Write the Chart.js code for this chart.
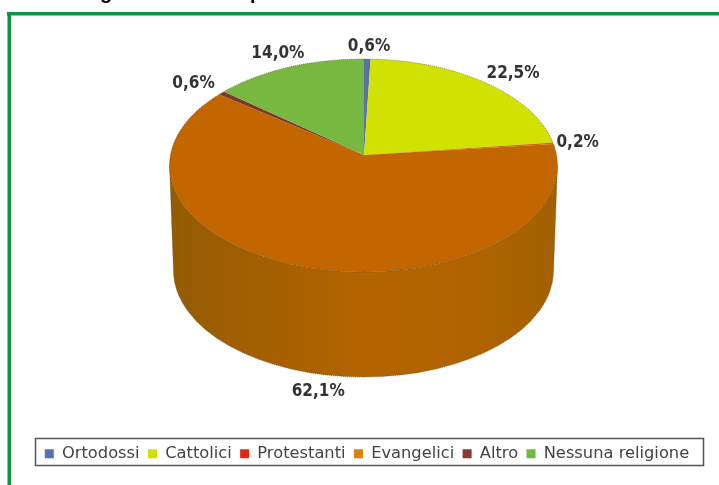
<!DOCTYPE html>
<html><head><meta charset="utf-8">
<style>html,body{margin:0;padding:0;background:#fff}canvas{display:block}</style>
<script src="https://cdn.jsdelivr.net/npm/chart.js@4"></script></head>
<body><canvas id="c" width="719" height="485"></canvas>
<script>
const categories = ["Ortodossi","Cattolici","Protestanti","Evangelici","Altro","Nessuna religione"];
const values = [0.6,22.5,0.2,62.1,0.6,14.0];
const valueLabels = ["0,6%","22,5%","0,2%","62,1%","0,6%","14,0%"];
const sliceColors = ["#5a72aa","#d1e100","#cc6a04","#c36600","#7f3a2a","#77b841"];
const legendColors = ["#5473b4","#d0e000","#dc2a10","#dc8010","#8c3a30","#6fbb40"];
const labelNudges = [[1,3],[4,0],[1,0],[12,2],[-3,-2],[5,-1]];

// apex of the slices, and the outline of the top face and of the base
const G = {ax:364, ay:155, ex:363.5, ey:165.5, rx:194, ry:106.5, rayX:194, rayY:106, wall:105, baseRx:190};

function place(ctx, arc, k){
  ctx.translate(G.ax, G.ay);
  ctx.scale(k*G.rayX/arc.outerRadius, k*G.rayY/arc.outerRadius);
  ctx.translate(-arc.x, -arc.y);
}
function drawArc(ctx, a, fill){
  const o=a.options;
  a.options=Object.create(o,{backgroundColor:{value:fill},borderWidth:{value:0}});
  a.draw(ctx);
  a.options=o;
}
function hullPath(ctx){
  ctx.beginPath();
  ctx.ellipse(G.ex,G.ey,G.rx,G.ry,0,Math.PI,0,true);
  ctx.ellipse(G.ex,G.ey+G.wall,G.baseRx,G.ry,0,0,Math.PI,false);
  ctx.closePath();
}
const pie3d = {
  id:'pie3d',
  beforeDatasetsDraw(chart){
    const ctx=chart.ctx, arcs=chart.getDatasetMeta(0).data;
    // side wall
    ctx.save();
    hullPath(ctx); ctx.clip();
    const g=ctx.createLinearGradient(G.ex-G.rx,0,G.ex+G.rx,0);
    g.addColorStop(0,'#935c02');g.addColorStop(0.25,'#a55f00');
    g.addColorStop(0.5,'#b36400');g.addColorStop(0.8,'#af6300');g.addColorStop(1,'#a26000');
    ctx.fillStyle=g;
    ctx.fillRect(0,0,719,485);
    ctx.restore();
    // top face
    ctx.save();
    ctx.beginPath(); ctx.ellipse(G.ex,G.ey,G.rx,G.ry,0,0,Math.PI*2); ctx.clip();
    place(ctx,arcs[0],1.5);
    arcs.forEach((a,i)=>drawArc(ctx,a,sliceColors[i]));
    ctx.restore();
    // dotted rim
    ctx.save();
    ctx.strokeStyle='rgba(70,60,20,.55)'; ctx.lineWidth=1; ctx.setLineDash([1,1]);
    ctx.beginPath(); ctx.ellipse(G.ex,G.ey,G.rx,G.ry,0,Math.PI,0); ctx.stroke();
    hullPath(ctx); ctx.stroke();
    ctx.restore();
    return false;
  },
  afterDraw(chart){
    const ctx=chart.ctx, arcs=chart.getDatasetMeta(0).data;
    ctx.save();
    ctx.fillStyle='#0b9444';
    ctx.fillRect(7,12,712,3.5); ctx.fillRect(7.5,12,3.5,473);
    ctx.fillStyle='#000'; ctx.font='bold 20px "Liberation Sans"'; ctx.textAlign='center'; ctx.textBaseline='alphabetic';
    ctx.fillText('g',106,-1); ctx.fillText('p',256,-1);
    ctx.strokeStyle='#555'; ctx.lineWidth=1.5; ctx.strokeRect(35.5,438.5,668,27);
    ctx.fillStyle='#333'; ctx.font='bold 17px "DejaVu Sans Condensed","DejaVu Sans"'; ctx.textBaseline='middle';
    arcs.forEach((a,i)=>{
      const mid=(a.startAngle+a.endAngle)/2;
      const sx=Math.cos(mid), sy=Math.sin(mid);
      const x=G.ax+(G.rx+20)*sx+labelNudges[i][0];
      const y=sy>0 ? G.ay+G.wall+135*sy : G.ay+111*sy;
      ctx.fillText(valueLabels[i],x,y+labelNudges[i][1]);
    });
    ctx.restore();
  }
};
new Chart(document.getElementById('c'),{
  type:'pie',
  data:{labels:categories,datasets:[{data:values,backgroundColor:sliceColors,borderWidth:0}]},
  options:{
    responsive:false,animation:false,
    layout:{padding:{left:15,right:0,top:20,bottom:13}},
    plugins:{
      tooltip:{enabled:false},
      legend:{position:'bottom',
        labels:{boxWidth:9,boxHeight:9,padding:8.4,color:'#444',
          font:{family:'"DejaVu Sans"',size:16.3},
          generateLabels(chart){
            return categories.map((t,i)=>({text:t,fillStyle:legendColors[i],strokeStyle:legendColors[i],lineWidth:0,index:i,fontColor:'#444'}));
          }}}
    }
  },
  plugins:[pie3d]
});
</script></body></html>
